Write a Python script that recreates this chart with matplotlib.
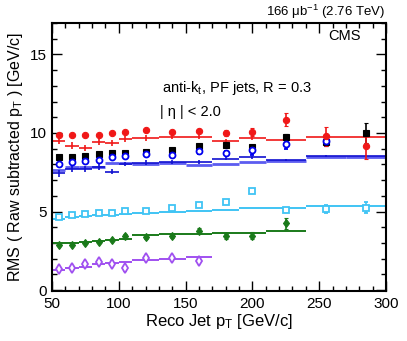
import matplotlib
matplotlib.use("Agg")
from matplotlib import pyplot as plt
from matplotlib.ticker import MultipleLocator

plt.rcParams["font.family"] = ["Liberation Sans", "DejaVu Sans"]
plt.rcParams["mathtext.fontset"] = "custom"
plt.rcParams["mathtext.rm"] = "Liberation Sans"
plt.rcParams["mathtext.it"] = "Liberation Sans:italic"

# bin centres and half widths (GeV/c)
pt = [55, 65, 75, 85, 95, 105, 120, 140, 160, 180, 200, 225, 255, 285]
half_w = [5, 5, 5, 5, 5, 5, 10, 10, 10, 10, 10, 15, 15, 15]

# data points
red_data = [9.85, 9.9, 9.9, 9.9, 9.98, 10.08, 10.17, 10.08, 10.15, 9.98, 10.08, 10.85, 9.78, 9.17]
red_data_err = [0.05, 0.05, 0.05, 0.05, 0.05, 0.06, 0.08, 0.1, 0.12, 0.18, 0.25, 0.4, 0.6, 0.85]
black_data = [8.45, 8.49, 8.56, 8.64, 8.75, 8.73, 8.81, 8.94, 9.15, 9.24, 9.09, 9.72, 9.45, 10.0]
black_data_err = [0.04, 0.04, 0.04, 0.05, 0.05, 0.06, 0.07, 0.08, 0.1, 0.12, 0.15, 0.2, 0.3, 0.65]
blue_data = [8.0, 8.16, 8.24, 8.3, 8.45, 8.51, 8.66, 8.6, 8.83, 8.73, 8.92, 9.3, 9.51]
blue_data_err = [0.04, 0.04, 0.04, 0.05, 0.05, 0.06, 0.07, 0.08, 0.15, 0.15, 0.3, 0.3, 0.35]
cyan_data = [4.68, 4.79, 4.85, 4.89, 4.89, 5.02, 5.02, 5.23, 5.44, 5.59, 6.31, 5.11, 5.17, 5.23]
cyan_data_err = [0.03, 0.03, 0.03, 0.03, 0.04, 0.04, 0.05, 0.05, 0.06, 0.08, 0.1, 0.12, 0.25, 0.35]
green_data = [2.84, 2.88, 2.97, 3.05, 3.18, 3.41, 3.35, 3.41, 3.79, 3.41, 3.47, 4.26]
green_data_err = [0.03, 0.03, 0.04, 0.05, 0.06, 0.15, 0.08, 0.1, 0.15, 0.15, 0.2, 0.35]
purple_data = [1.33, 1.42, 1.63, 1.78, 1.63, 1.38, 2.05, 2.05, 1.86]
purple_data_err = [0.05, 0.05, 0.06, 0.07, 0.08, 0.15, 0.1, 0.1, 0.12]

# embedded MC (crosses / bin lines)
red_mc = [9.51, 9.19, 9.05, 9.45, 9.34, 9.6, 9.68, 9.76, 9.74, 9.49, 9.68, 9.57, 9.76, 9.76]
red_mc_err = [0.22, 0.22, 0.2, 0.2, 0.2, 0.2, 0.18, 0.12, 0.12, 0.1, 0.1, 0.1, 0.08, 0.08]
navy_mc = [7.44, 7.7, 7.72, 7.82, 7.54, 8.03, 8.1, 8.17, 8.15, 8.35, 8.45, 8.28, 8.53, 8.53]
navy_mc_err = [0.22, 0.2, 0.2, 0.18, 0.18, 0.15, 0.15, 0.12, 0.12, 0.1, 0.1, 0.08, 0.06, 0.06]
lblue_mc = [7.67, 7.86, 7.86, 7.86, 8.11, 8.08, 8.03, 8.1, 7.97, 8.05, 8.15, 8.2, 8.5, 8.5]
cyan_mc = [4.55, 4.64, 4.7, 4.75, 4.79, 4.85, 4.89, 5.0, 5.06, 5.11, 5.23, 5.23, 5.36, 5.36]
green_mc = [2.97, 3.0, 3.05, 3.1, 3.17, 3.22, 3.49, 3.55, 3.6, 3.63, 3.63, 3.79]
purple_mc = [1.27, 1.38, 1.48, 1.63, 1.73, 1.8, 1.9, 1.97, 2.12]

RED = "#f01818"
NAVY = "#1010d0"
LBLUE = "#5c5cf0"
CYAN = "#40c4f4"
GREEN = "#1a7a1a"
PURPLE = "#a050f0"

fig = plt.figure(figsize=(4.07, 3.41), dpi=100)
ax = fig.add_axes([52 / 407, 1 - 291 / 341, 334 / 407, 268 / 341])

def mc(vals, color, yerr=None, lw=1.2):
    n = len(vals)
    ax.errorbar(pt[:n], vals, xerr=half_w[:n], yerr=yerr, fmt="none",
                ecolor=color, elinewidth=lw, capsize=0)

mc(lblue_mc, LBLUE, lw=2.0)
mc(navy_mc, NAVY, yerr=navy_mc_err)
mc(red_mc, RED, yerr=red_mc_err)
mc(cyan_mc, CYAN, lw=1.4)
mc(green_mc, GREEN, lw=1.4)
mc(purple_mc, PURPLE, lw=1.4)

def data(vals, err, color, marker, ms, filled=True):
    n = len(vals)
    ax.errorbar(pt[:n], vals, yerr=err, fmt=marker, color=color, ms=ms,
                mfc=color if filled else "white", mec=color,
                mew=0.8 if filled else 1.3, elinewidth=1.2, capsize=1.5)

data(cyan_data, cyan_data_err, CYAN, "s", 4.4, filled=False)
data(green_data, green_data_err, GREEN, "d", 4.5)
data(purple_data, purple_data_err, PURPLE, "d", 5.0, filled=False)
data(black_data, black_data_err, "black", "s", 4.4)
data(blue_data, blue_data_err, "#0000ee", "o", 4.3, filled=False)
data(red_data, red_data_err, RED, "o", 4.5)

ax.set_xlim(50, 300)
ax.set_ylim(-0.06, 17)
ax.xaxis.set_major_locator(MultipleLocator(50))
ax.xaxis.set_minor_locator(MultipleLocator(10))
ax.yaxis.set_major_locator(MultipleLocator(5))
ax.yaxis.set_minor_locator(MultipleLocator(1))
ax.tick_params(which="both", direction="in", top=True, right=True, width=1.0,
               labelsize=11, pad=4)
ax.tick_params(which="major", length=7)
ax.tick_params(which="minor", length=3.5)
for sp in ax.spines.values():
    sp.set_linewidth(1.5)

ax.set_xlabel(r"Reco Jet p$_{\mathrm{T}}$ [GeV/c]", fontsize=12, labelpad=1)
ax.set_ylabel(r"RMS ( Raw subtracted p$_{\mathrm{T}}$ ) [GeV/c]", fontsize=11.5, labelpad=3)

ax.text(132, 12.88, r"anti-k$_{\mathrm{t}}$, PF jets, R = 0.3", fontsize=10.5, va="center")
ax.text(131, 11.35, "| η | < 2.0", fontsize=10.5, va="center")
ax.text(269, 16.15, "CMS", fontsize=10.5, ha="center", va="center")
fig.text(385 / 407, 1 - 12 / 341, r"166 μb$^{-1}$ (2.76 TeV)", fontsize=9.5,
         ha="right", va="center")

fig.savefig("out.png", dpi=100)
